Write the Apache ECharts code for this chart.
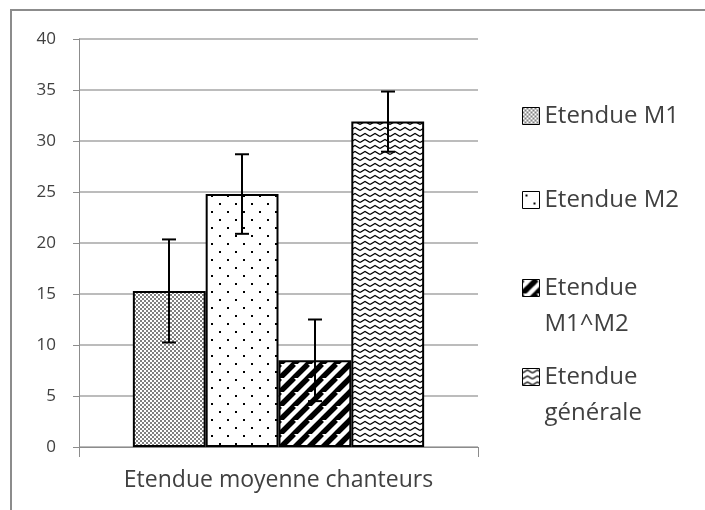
<!DOCTYPE html>
<html style="height: 100%">
<head>
<meta charset="utf-8">
</head>
<body style="height: 100%; margin: 0; background: #fff">
<div style="position:absolute; left:10px; top:9px; width:700px; height:510px; border-left:2px solid #8c8c8c; border-top:2px solid #8c8c8c"></div>
<div id="container" style="position:absolute; left:0; top:0; width:705px; height:510px"></div>
<script type="text/javascript" src="https://cdn.jsdelivr.net/npm/echarts@6/dist/echarts.min.js"></script>
<script type="text/javascript">
// data
var categories = ['Etendue moyenne chanteurs'];
var seriesNames = ['Etendue M1', 'Etendue M2', 'Etendue M1^M2', 'Etendue générale'];
var legendLabels = ['Etendue M1', 'Etendue M2', 'Etendue\nM1^M2', 'Etendue\ngénérale'];
var means = [15.3, 24.8, 8.5, 31.9];
var errors = [5.05, 3.9, 4.0, 2.95];
var yTicks = { min: 0, max: 40, interval: 5 };

var FONT = 'Open Sans';
var TEXT = '#404040';
var GAP = 0.27;
var LINE_H = 36;

function tile(w, h, draw) {
    var c = document.createElement('canvas');
    c.width = w; c.height = h;
    var ctx = c.getContext('2d');
    ctx.fillStyle = '#fff';
    ctx.fillRect(0, 0, w, h);
    draw(ctx);
    return { image: c, repeat: 'repeat' };
}

var patterns = [
    // dense dots
    tile(4, 4, function (ctx) {
        ctx.fillStyle = '#808080';
        ctx.fillRect(0, 0, 2, 2);
        ctx.fillRect(2, 2, 2, 2);
    }),
    // sparse dots
    tile(16, 16, function (ctx) {
        ctx.fillStyle = '#000';
        ctx.fillRect(3, 3, 2, 2);
        ctx.fillRect(11, 11, 2, 2);
    }),
    // wide diagonal stripes
    tile(14, 14, function (ctx) {
        ctx.strokeStyle = '#000';
        ctx.lineWidth = 5.5;
        ctx.beginPath();
        for (var k = -14; k <= 28; k += 14) {
            ctx.moveTo(k - 14, 28);
            ctx.lineTo(k + 14, 0);
        }
        ctx.stroke();
    }),
    // zigzag waves
    tile(10, 6, function (ctx) {
        ctx.strokeStyle = '#000';
        ctx.lineWidth = 1.3;
        ctx.beginPath();
        ctx.moveTo(0, 4.5);
        ctx.lineTo(5, 1.5);
        ctx.lineTo(10, 4.5);
        ctx.stroke();
    })
];

var dom = document.getElementById('container');
var myChart = echarts.init(dom);

// first-line centre of each legend entry
var legendCentres = [116, 200, 288, 377];

var series = seriesNames.map(function (name, i) {
    return {
        name: name,
        type: 'bar',
        data: [means[i]],
        barGap: '0%',
        barCategoryGap: (GAP * 100) + '%',
        itemStyle: {
            color: patterns[i],
            borderColor: '#000',
            borderWidth: 2
        },
        emphasis: { disabled: true }
    };
});

series.push({
    type: 'custom',
    name: 'errors',
    silent: true,
    z: 5,
    encode: { x: 0, y: [1, 2] },
    data: means.map(function (m, i) {
        return [0, m - errors[i], m + errors[i], i];
    }),
    renderItem: function (params, api) {
        var lo = api.value(1), hi = api.value(2), idx = api.value(3);
        var n = seriesNames.length;
        var band = api.size([1, 0])[0];
        var barW = band * (1 - GAP) / n;
        var pLo = api.coord([api.value(0), lo]);
        var pHi = api.coord([api.value(0), hi]);
        var x = Math.round(pLo[0] - n * barW / 2 + (idx + 0.5) * barW);
        var cap = 7;
        var st = { stroke: '#000', lineWidth: 2 };
        return {
            type: 'group',
            children: [
                { type: 'line', shape: { x1: x, y1: pLo[1], x2: x, y2: pHi[1] }, style: st },
                { type: 'line', shape: { x1: x - cap, y1: pLo[1], x2: x + cap, y2: pLo[1] }, style: st },
                { type: 'line', shape: { x1: x - cap, y1: pHi[1], x2: x + cap, y2: pHi[1] }, style: st }
            ]
        };
    }
});

var ICON = 17;
// a square at the top of a taller box, so a two-line label lines up with its first line
var tallIcon = 'path://M0,0L17,0L17,17L0,17Z M0,53L0,53';

var option = {
    animation: false,
    textStyle: { fontFamily: FONT },
    grid: { left: 79, right: 227, top: 39, bottom: 63 },
    legend: seriesNames.map(function (name, i) {
        var twoLines = legendLabels[i].indexOf('\n') >= 0;
        return {
            data: [name],
            orient: 'vertical',
            left: 522,
            top: legendCentres[i] - LINE_H / 2,
            padding: 0,
            selectedMode: false,
            icon: twoLines ? tallIcon : 'rect',
            itemWidth: ICON,
            itemHeight: twoLines ? 53 : ICON,
            itemStyle: { borderColor: '#000', borderWidth: 1 },
            formatter: function () { return legendLabels[i]; },
            textStyle: {
                fontFamily: FONT,
                fontSize: 24,
                color: TEXT,
                lineHeight: LINE_H
            }
        };
    }),
    xAxis: {
        type: 'category',
        data: categories,
        axisLine: { lineStyle: { color: '#8c8c8c', width: 1 } },
        axisTick: { show: true, length: 10, lineStyle: { color: '#8c8c8c' } },
        axisLabel: { margin: 22, fontSize: 23, color: TEXT, fontFamily: FONT }
    },
    yAxis: {
        type: 'value',
        min: yTicks.min,
        max: yTicks.max,
        interval: yTicks.interval,
        axisLine: { show: true, lineStyle: { color: '#8c8c8c', width: 1 } },
        axisTick: { show: true, length: 6, lineStyle: { color: '#8c8c8c' } },
        axisLabel: { margin: 23, fontSize: 17, color: TEXT, fontFamily: FONT },
        splitLine: { lineStyle: { color: '#a6a6a6', width: 1.5 } }
    },
    series: series
};

myChart.setOption(option);
</script>
</body>
</html>
